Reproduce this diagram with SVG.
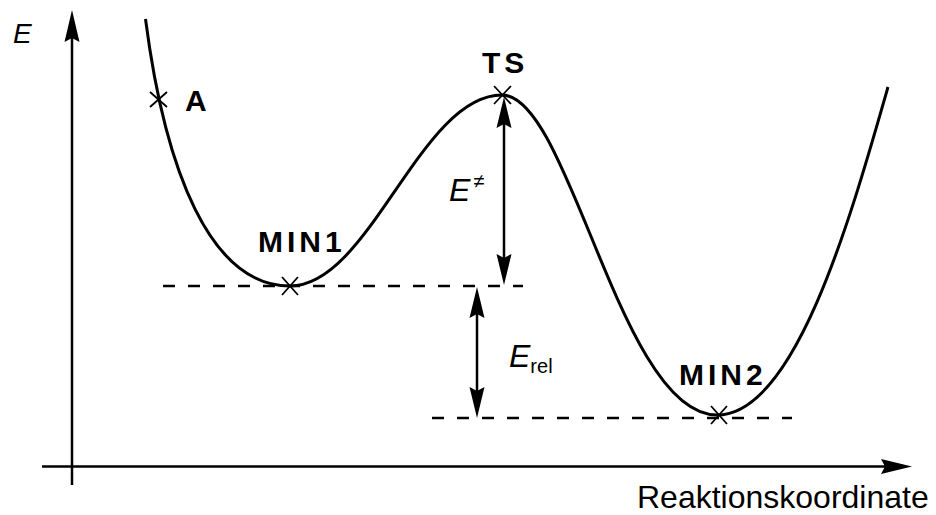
<svg xmlns="http://www.w3.org/2000/svg" width="936" height="515" viewBox="0 0 936 515">
<style>
.ln{stroke:#000;stroke-width:2.5;fill:none}
.cv{stroke:#000;stroke-width:3;fill:none}
.dash{stroke:#000;stroke-width:2.5;fill:none;stroke-dasharray:12 13}
.x{stroke:#000;stroke-width:1.8;fill:none}
.hd{fill:#000;stroke:none}
.b{font-family:"Liberation Sans",Arial,sans-serif;font-weight:bold;font-size:30px;letter-spacing:4px}
.i{font-family:"Liberation Sans",Arial,sans-serif;font-style:italic}
.n{font-family:"Liberation Sans",Arial,sans-serif}
</style>
<rect width="936" height="515" fill="#fff"/>
<g id="axes">
<line class="ln" x1="72" y1="485" x2="72" y2="36"/>
<polygon class="hd" points="72,10 64.5,42 72,38 79.5,42"/>
<line class="ln" x1="42" y1="466.5" x2="886" y2="466.5"/>
<polygon class="hd" points="912,466.5 881,459 885,466.5 881,474"/>
<text class="i" x="13" y="43" font-size="28">E</text>
<text class="n" x="637" y="508" font-size="32">Reaktionskoordinate</text>
</g>
<g id="curve">
<path class="cv" d="M145.5,19 C165,170 210,286 290,286 C370,286 420,95 502,95 C570,95 620,415 717,415 C795,415 850,220 888,87"/>
</g>
<g id="levels">
<line class="dash" x1="163" y1="286" x2="523" y2="286"/>
<line class="dash" x1="432" y1="418" x2="792" y2="418"/>
</g>
<g id="A">
<path class="x" d="M150,92 L167,107 M150,107 L167,92"/>
<text class="b" x="185" y="111">A</text>
</g>
<g id="TS">
<path class="x" d="M494,86 L511,104 M494,104 L511,86"/>
<text class="b" x="482" y="73" letter-spacing="6">TS</text>
</g>
<g id="MIN1">
<path class="x" d="M282,277 L298,295 M282,295 L298,277"/>
<text class="b" x="258" y="252">MIN1</text>
</g>
<g id="MIN2">
<path class="x" d="M711,406 L727,424 M711,424 L727,406"/>
<text class="b" x="679" y="385">MIN2</text>
</g>
<g id="connectors">
<line class="ln" x1="504" y1="120" x2="504" y2="262"/>
<polygon class="hd" points="504,97 496.5,128 504,124 511.5,128"/>
<polygon class="hd" points="504,285 496.5,254 504,258 511.5,254"/>
<line class="ln" x1="477" y1="310" x2="477" y2="396"/>
<polygon class="hd" points="477,287 469.5,318 477,314 484.5,318"/>
<polygon class="hd" points="477,418 469.5,387 477,391 484.5,387"/>
</g>
<g id="labels">
<text class="i" x="449" y="201" font-size="32">E<tspan font-style="normal" font-size="20" dx="3" dy="-13">≠</tspan></text>
<text class="i" x="509" y="367" font-size="32">E<tspan font-style="normal" font-size="20" dy="6">rel</tspan></text>
</g>
</svg>
